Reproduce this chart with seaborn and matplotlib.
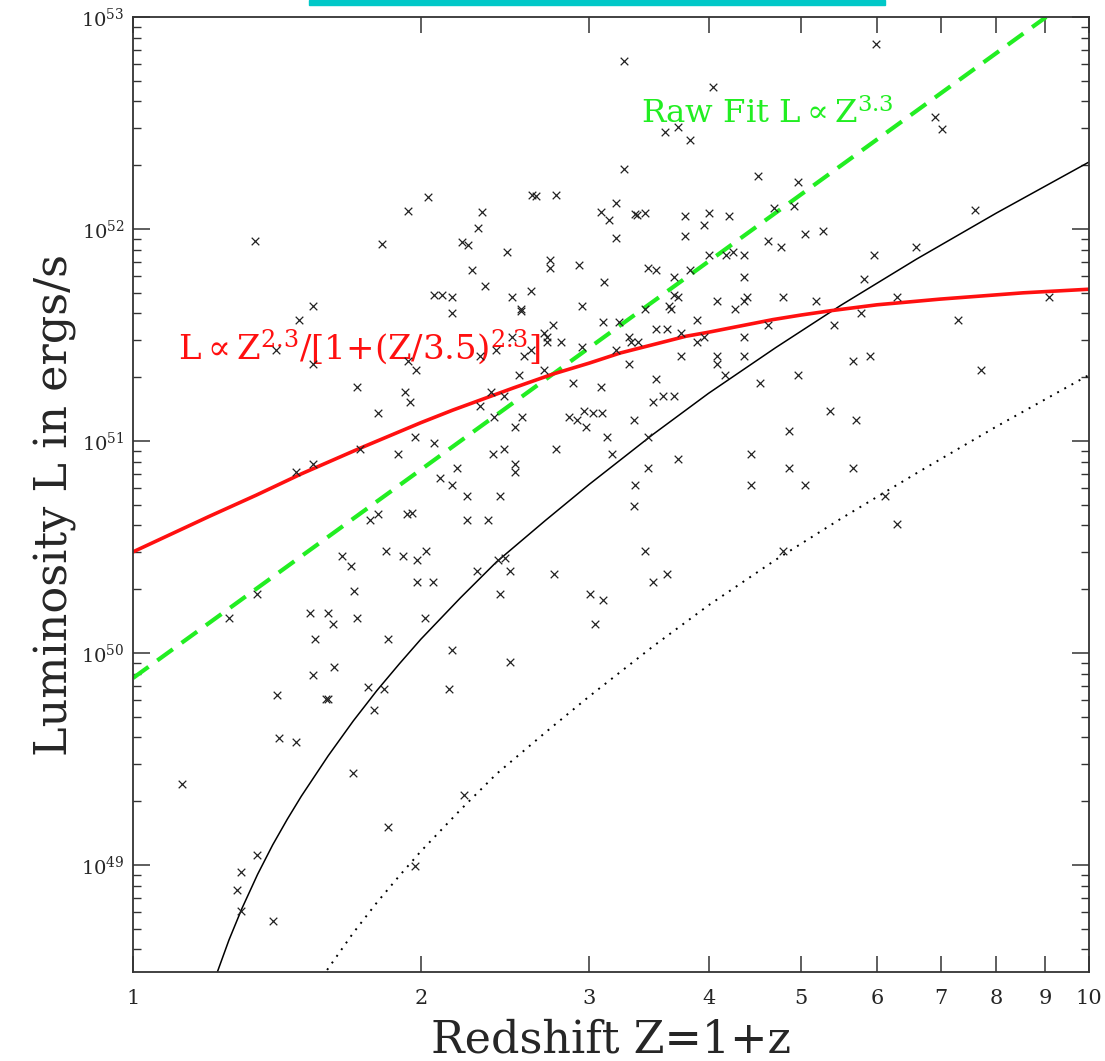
import numpy as np
import pandas as pd
import matplotlib
matplotlib.use("Agg")
import matplotlib.pyplot as plt
import matplotlib.ticker as mticker
from matplotlib.patches import Rectangle
import seaborn as sns

# ---------------- data (L in units of 1e51 erg/s) ----------------
z_obs = [
    1.341, 1.822, 1.939, 2.035,
    3.266, 4.044, 3.601, 3.716, 3.825, 3.266, 2.614, 2.639, 2.770, 2.318, 2.296,
    2.209, 2.241, 2.462, 3.086, 3.200, 3.146, 3.200, 3.354, 3.365, 3.432, 3.775,
    4.000, 4.202, 3.953, 3.775, 4.506, 4.683, 4.615, 4.000, 4.172, 4.243, 4.352,
    5.988, 6.901, 7.018, 4.967, 4.914, 5.046, 5.270, 4.763, 6.592, 7.600, 5.952,
    1.543, 1.492, 1.411, 1.543, 1.715, 1.804, 1.925, 1.949, 1.939, 1.977, 2.065,
    2.105, 2.154, 2.154, 1.972, 2.065, 1.728, 1.481, 1.543, 1.893, 2.095, 2.154,
    2.263, 2.733, 2.733, 2.927, 3.457, 3.524, 3.825, 3.109, 3.680, 4.352, 2.335,
    2.605, 2.491, 2.546, 2.546, 2.952, 3.680, 3.716, 3.640, 3.650, 4.083, 4.389,
    4.352, 4.264, 3.432, 3.890, 3.101, 3.224, 2.750, 2.694, 2.711, 2.711, 2.803,
    2.491, 2.564, 2.605, 2.397, 2.304, 3.524, 3.623, 3.747, 3.302, 3.318, 3.374,
    2.952, 3.200, 3.890, 3.953, 4.352, 4.615, 3.302, 3.747, 4.083, 4.083, 4.352,
    2.694, 2.533, 2.885, 3.086, 3.524, 4.162, 4.528, 2.369, 2.444, 2.304, 2.386,
    2.552, 3.503, 3.584, 3.680, 2.858, 2.913, 2.963, 3.028, 3.094, 2.977, 3.342,
    2.509, 3.131, 3.457, 2.380, 2.444, 2.770, 3.170, 3.716, 4.431, 2.509, 2.509,
    2.183, 3.457, 3.354, 4.431, 2.421, 2.234,
    5.817, 4.791, 5.182, 6.290, 9.083, 5.775, 5.412, 7.295, 5.658, 5.902, 4.967,
    7.709, 5.360, 5.706, 4.856, 4.856, 5.658, 5.046, 6.112,
    1.770, 1.804, 1.934, 1.958, 1.654, 1.690, 1.839, 1.916, 1.982, 2.025, 1.982,
    2.060, 1.703, 1.348, 1.260, 1.531, 1.600, 1.619, 1.715, 2.020, 1.550, 1.848,
    1.543, 1.623, 1.414, 1.592, 1.600, 1.762, 1.830, 1.787, 2.141, 2.154, 1.423,
    2.234, 2.352, 3.342, 3.432, 2.409, 2.450, 2.290, 2.477, 2.756, 3.503, 3.623,
    2.421, 3.006, 3.101, 3.042, 2.477,
    4.791, 6.290,
    1.481, 1.125, 1.698, 1.848, 1.348, 1.297, 1.285, 1.297, 1.401, 1.972,
    2.220,
]
l_obs = [
    8.78, 8.54, 12.2, 14.2,
    62.0, 46.8, 28.7, 30.3, 26.3, 19.2, 14.5, 14.3, 14.5, 12.0, 10.1,
    8.69, 8.41, 7.83, 12.0, 13.3, 11.0, 9.07, 11.8, 11.7, 11.9, 11.5,
    11.9, 11.5, 10.4, 9.27, 17.8, 12.6, 8.78, 7.58, 7.58, 7.83, 7.58,
    74.6, 33.8, 29.6, 16.7, 12.8, 9.47, 9.79, 8.27, 8.27, 12.3, 7.58,
    4.33, 3.74, 2.69, 2.30, 1.80, 1.35, 1.70, 1.53, 2.38, 2.17, 4.91,
    4.91, 4.78, 4.02, 1.04, 0.978, 0.917, 0.718, 0.783, 0.868, 0.669, 0.620,
    6.41, 7.14, 6.58, 6.76, 6.58, 6.41, 6.41, 5.62, 5.97, 5.97, 5.38,
    5.10, 4.78, 4.20, 4.10, 4.33, 4.91, 4.78, 4.33, 4.20, 4.60, 4.78,
    4.60, 4.20, 4.20, 3.74, 3.64, 3.64, 3.54, 3.22, 3.09, 2.93, 2.93,
    3.09, 2.52, 2.69, 2.69, 2.52, 3.38, 3.38, 3.22, 3.09, 2.93, 2.93,
    2.78, 2.69, 2.93, 3.09, 3.09, 3.54, 2.30, 2.52, 2.52, 2.30, 2.52,
    2.17, 2.04, 1.88, 1.80, 1.96, 2.04, 1.88, 1.70, 1.63, 1.46, 1.30,
    1.30, 1.53, 1.63, 1.63, 1.30, 1.25, 1.39, 1.35, 1.35, 1.16, 1.25,
    1.16, 1.04, 1.04, 0.868, 0.917, 0.917, 0.868, 0.822, 0.868, 0.783, 0.718,
    0.750, 0.750, 0.620, 0.620, 0.550, 0.550,
    5.81, 4.78, 4.60, 4.78, 4.78, 4.02, 3.54, 3.74, 2.38, 2.52, 2.04,
    2.17, 1.39, 1.25, 1.11, 0.750, 0.750, 0.620, 0.550,
    0.422, 0.452, 0.452, 0.460, 0.287, 0.257, 0.303, 0.287, 0.275, 0.303, 0.216,
    0.216, 0.196, 0.189, 0.146, 0.155, 0.155, 0.137, 0.146, 0.146, 0.116, 0.116,
    0.0787, 0.0859, 0.0634, 0.0604, 0.0610, 0.0691, 0.0673, 0.0538, 0.0673, 0.103, 0.0397,
    0.422, 0.422, 0.494, 0.303, 0.275, 0.282, 0.245, 0.245, 0.235, 0.216, 0.235,
    0.189, 0.189, 0.178, 0.137, 0.0907,
    0.303, 0.406,
    0.0380, 0.0241, 0.0272, 0.0151, 0.01115, 0.00927, 0.00762, 0.00607, 0.00544, 0.00989,
    0.0214,
]

# Raw fit (L ~ Z^3.3), green dashed
z_raw = [1.0, 9.02]
l_raw = [0.0762, 100.0]

# L ~ Z^2.3 / [1 + (Z/3.5)^2.3], red
z_evo = [1.0, 1.2, 1.345, 1.5, 1.728, 2.0, 2.161, 2.5, 2.75, 3.0, 3.232, 3.788,
         4.0, 4.672, 5.0, 5.372, 6.0, 6.985, 8.53, 10.0]
l_evo = [0.300, 0.440, 0.555, 0.700, 0.925, 1.22, 1.40, 1.78, 2.07, 2.33, 2.60, 3.12,
         3.26, 3.74, 3.93, 4.12, 4.39, 4.67, 5.00, 5.20]

# flux limit, black solid
z_lim = [1.224, 1.26, 1.30, 1.35, 1.40, 1.45, 1.50, 1.60, 1.70, 1.80, 1.90, 2.0,
         2.2, 2.4, 2.7, 3.0, 3.5, 4.0, 4.7, 5.5, 6.6, 8.0, 10.0]
l_lim = [0.00309, 0.00443, 0.00624, 0.00904, 0.01245, 0.01644, 0.02113, 0.03273,
         0.04786, 0.06668, 0.0891, 0.1161, 0.182, 0.269, 0.422, 0.624, 1.076, 1.679,
         2.754, 4.365, 7.21, 11.89, 20.7]

# lower limit, black dotted
z_low = [1.596, 1.70, 1.80, 1.90, 2.0, 2.2, 2.4, 2.7, 3.0, 3.5, 4.0, 4.7, 5.5, 6.6,
         8.0, 10.0]
l_low = [0.00320, 0.00479, 0.00667, 0.00891, 0.0116, 0.0182, 0.0269, 0.0422, 0.0624,
         0.1076, 0.168, 0.275, 0.430, 0.705, 1.17, 2.05]

x_ticks = [1, 2, 3, 4, 5, 6, 7, 8, 9, 10]
x_ticklabels = ["1", "2", "3", "4", "5", "6", "7", "8", "9", "10"]

UNIT = 1e51

# ---------------- figure ----------------
sns.set_style("ticks")
plt.rcParams["font.family"] = ["DejaVu Serif", "DejaVu Sans"]
plt.rcParams["mathtext.fontset"] = "dejavuserif"

fig = plt.figure(figsize=(11.05, 10.61), dpi=100)
ax = fig.add_axes([133 / 1105, 1 - 972 / 1061, (1089 - 133) / 1105, (972 - 17) / 1061])

df_obs = pd.DataFrame({"Z": z_obs, "L": np.array(l_obs) * UNIT})
df_raw = pd.DataFrame({"Z": z_raw, "L": np.array(l_raw) * UNIT})
df_evo = pd.DataFrame({"Z": z_evo, "L": np.array(l_evo) * UNIT})
df_lim = pd.DataFrame({"Z": z_lim, "L": np.array(l_lim) * UNIT})
df_low = pd.DataFrame({"Z": z_low, "L": np.array(l_low) * UNIT})

ax.set_xscale("log")
ax.set_yscale("log")

sns.lineplot(data=df_low, x="Z", y="L", ax=ax, color="black", lw=1.4,
             linestyle=(0, (1, 3.2)), sort=False, estimator=None)
sns.lineplot(data=df_lim, x="Z", y="L", ax=ax, color="black", lw=1.1,
             sort=False, estimator=None)
sns.lineplot(data=df_raw, x="Z", y="L", ax=ax, color="#22ee22", lw=3.0,
             linestyle=(0, (4.6, 2.6)), sort=False, estimator=None)
sns.lineplot(data=df_evo, x="Z", y="L", ax=ax, color="#ff1010", lw=2.6,
             sort=False, estimator=None)
sns.scatterplot(data=df_obs, x="Z", y="L", ax=ax, marker="x", s=30,
                color="#222222", linewidth=0.9, zorder=5)

ax.set_xlim(1, 10)
ax.set_ylim(3.13e48, 1e53)

# ticks
ax.xaxis.set_major_locator(mticker.FixedLocator(x_ticks))
ax.xaxis.set_major_formatter(mticker.FixedFormatter(x_ticklabels))
ax.xaxis.set_minor_locator(mticker.NullLocator())
ax.yaxis.set_major_locator(mticker.LogLocator(base=10, numticks=20))
ax.yaxis.set_major_formatter(mticker.LogFormatterSciNotation())
ax.yaxis.set_minor_locator(mticker.LogLocator(base=10, subs=np.arange(2, 10), numticks=20))
ax.yaxis.set_minor_formatter(mticker.NullFormatter())

ax.tick_params(axis="both", which="both", direction="in", top=True, right=True,
               color="#333333")
ax.tick_params(axis="x", which="major", length=11.5, width=1.1, labelsize=15, pad=12)
ax.tick_params(axis="y", which="major", length=12, width=1.1, labelsize=14, pad=6)
ax.tick_params(axis="y", which="minor", length=6, width=1.0)
for sp in ax.spines.values():
    sp.set_linewidth(1.3)
    sp.set_color("#333333")

ax.set_xlabel("Redshift Z=1+z", fontsize=32, va="center")
ax.xaxis.set_label_coords(0.5, -0.071)
ax.set_ylabel("Luminosity L in ergs/s", fontsize=32, va="center")
ax.yaxis.set_label_coords(-0.0816, 0.489)

ax.text(3.40, 35.0 * UNIT, r"Raw Fit L$\propto$Z$^{3.3}$", color="#22ee22",
        fontsize=23.3, ha="left", va="center")
ax.text(1.115, 2.78 * UNIT, r"L$\propto$Z$^{2.3}$/[1+(Z/3.5)$^{2.3}$]",
        color="#ff1010", fontsize=24.5, ha="left", va="center")

# decorative cyan bar from slide
fig.patches.append(Rectangle((309 / 1105, 1 - 5 / 1061), (885 - 309) / 1105, 5 / 1061,
                             transform=fig.transFigure, color="#00c8c8", zorder=10))

fig.savefig("out.png", dpi=100)
